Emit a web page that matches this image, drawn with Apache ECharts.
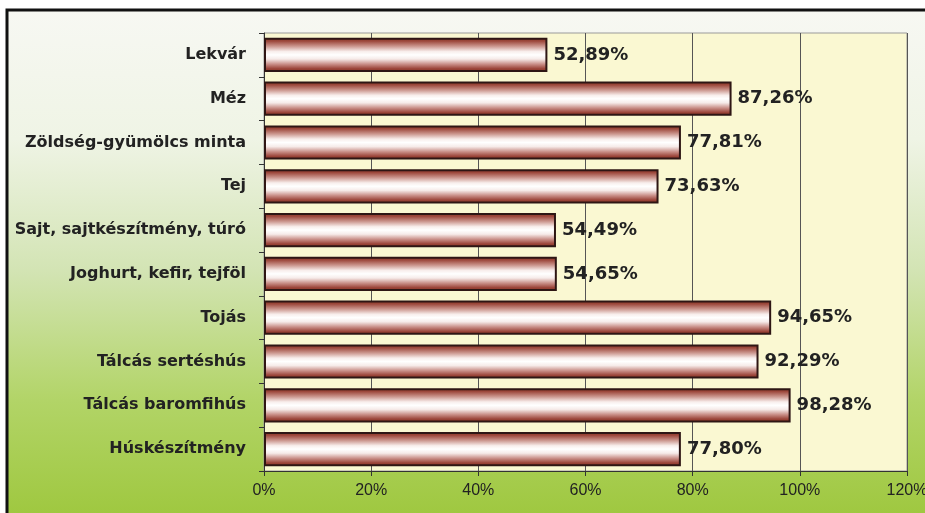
<!DOCTYPE html>
<html>
<head>
<meta charset="utf-8">
<script src="https://cdn.jsdelivr.net/npm/echarts@6/dist/echarts.min.js"></script>
<style>
  html, body { margin: 0; padding: 0; background: #fff; }
  #chart { width: 925px; height: 513px; }
</style>
</head>
<body>
<div id="chart"></div>
<script>
// top-to-bottom order as in the picture
const categories = [
  "Lekvár",
  "Méz",
  "Zöldség-gyümölcs minta",
  "Tej",
  "Sajt, sajtkészítmény, túró",
  "Joghurt, kefir, tejföl",
  "Tojás",
  "Tálcás sertéshús",
  "Tálcás baromfihús",
  "Húskészítmény",
];
const values = [52.89, 87.26, 77.81, 73.63, 54.49, 54.65, 94.65, 92.29, 98.28, 77.8];

const xMin = 0;
const xMax = 120;
const xStep = 20;

const chart = echarts.init(document.getElementById("chart"), null, { renderer: "canvas" });

const barFill = new echarts.graphic.LinearGradient(0, 0, 0, 1, [
  { offset: 0, color: "#84301f" },
  { offset: 0.1, color: "#9e4a3e" },
  { offset: 0.25, color: "#cc9890" },
  { offset: 0.4, color: "#f8eeec" },
  { offset: 0.5, color: "#ffffff" },
  { offset: 0.62, color: "#f6ebe9" },
  { offset: 0.77, color: "#c98f88" },
  { offset: 0.9, color: "#9c463b" },
  { offset: 1, color: "#84301f" },
]);

const bgFill = new echarts.graphic.LinearGradient(0, 0, 0, 1, [
  { offset: 0, color: "#f7f8f3" },
  { offset: 0.25, color: "#eff4e5" },
  { offset: 0.5, color: "#d3e4b4" },
  { offset: 0.75, color: "#b2d467" },
  { offset: 1, color: "#9cc63a" },
]);

chart.setOption({
  backgroundColor: "#ffffff",
  animation: false,
  graphic: [
    {
      type: "rect",
      z: -10,
      silent: true,
      shape: { x: 7, y: 10, width: 930, height: 520 },
      style: { fill: bgFill, stroke: "#111", lineWidth: 3 },
    },
  ],
  grid: {
    left: 264,
    right: 18,
    top: 33,
    bottom: 42,
    outerBoundsMode: "none",
    containLabel: false,
    show: true,
    backgroundColor: "#faf8d2",
    borderColor: "#9a9a9a",
    borderWidth: 1,
  },
  xAxis: {
    type: "value",
    min: xMin,
    max: xMax,
    interval: xStep,
    axisLine: { show: true, lineStyle: { color: "#333", width: 1 } },
    axisTick: { show: true, length: 5, lineStyle: { color: "#333" } },
    splitLine: { show: true, lineStyle: { color: "#555", width: 1 } },
    axisLabel: {
      formatter: "{value}%",
      color: "#222",
      fontFamily: "Liberation Sans",
      fontSize: 16,
      margin: 12,
    },
  },
  yAxis: {
    type: "category",
    data: categories,
    inverse: true,
    axisLine: { show: true, lineStyle: { color: "#333", width: 1 } },
    axisTick: { show: true, length: 5, lineStyle: { color: "#333" } },
    axisLabel: {
      color: "#222",
      fontFamily: "DejaVu Sans",
      fontWeight: "bold",
      fontSize: 16,
      margin: 18,
    },
  },
  series: [
    {
      type: "bar",
      data: values,
      barCategoryGap: "22%",
      itemStyle: { color: barFill, borderColor: "#2e1614", borderWidth: 2 },
      label: {
        show: true,
        position: "right",
        distance: 6,
        color: "#222",
        fontFamily: "DejaVu Sans",
        fontWeight: "bold",
        fontSize: 18,
        formatter: (p) => p.value.toFixed(2).replace(".", ",") + "%",
      },
    },
  ],
});
</script>
</body>
</html>
